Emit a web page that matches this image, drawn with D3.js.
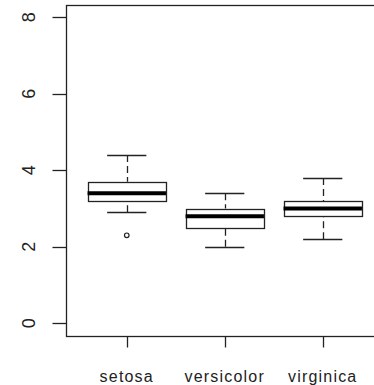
<!DOCTYPE html>
<html>
<head>
<meta charset="utf-8">
<script src="https://cdn.jsdelivr.net/npm/d3@7"></script>
<style>
  body { margin: 0; background: #fff; }
  svg { display: block; }
</style>
</head>
<body>
<script>
const width = 374;
const height = 385;

// iris sepal width, boxplot stats per species
const species = ['setosa', 'versicolor', 'virginica'];
const whiskerLow = [2.9, 2.0, 2.2];
const hingeLow = [3.2, 2.5, 2.8];
const medians = [3.4, 2.8, 3.0];
const hingeHigh = [3.7, 3.0, 3.2];
const whiskerHigh = [4.4, 3.4, 3.8];
const outliers = [[2.3], [], []];
const yTicks = [0, 2, 4, 6, 8];

const data = species.map((s, i) => ({
  name: s, pos: i + 1,
  lo: whiskerLow[i], q1: hingeLow[i], med: medians[i], q3: hingeHigh[i], hi: whiskerHigh[i],
  out: outliers[i]
}));

// R style: xlim 0.5..3.5, ylim 0..8, each padded by 4%
const x = d3.scaleLinear().domain([0.38, 3.62]).range([66, 383.5]);
const y = d3.scaleLinear().domain([-0.32, 8.32]).range([335.5, 5.1]);
const px = v => Math.round(v) + 0.5;

const svg = d3.select('body').append('svg')
  .attr('width', width).attr('height', height);

const ink = '#222';

// frame
svg.append('rect')
  .attr('x', px(x(0.38))).attr('y', px(y(8.32)))
  .attr('width', Math.round(x(3.62)) - Math.round(x(0.38)))
  .attr('height', Math.round(y(-0.32)) - Math.round(y(8.32)))
  .attr('fill', 'none').attr('stroke', ink).attr('stroke-width', 1.3);

// y axis
const yAxis = svg.append('g').attr('transform', `translate(${px(x(0.38))},0)`);
yAxis.selectAll('line').data(yTicks).enter().append('line')
  .attr('x1', -14).attr('x2', 0)
  .attr('y1', d => px(y(d))).attr('y2', d => px(y(d)))
  .attr('stroke', ink).attr('stroke-width', 1.3);
yAxis.selectAll('text').data(yTicks).enter().append('text')
  .attr('transform', d => `translate(-31.5,${y(d)}) rotate(-90)`)
  .attr('text-anchor', 'middle')
  .attr('font-family', 'Liberation Sans, Arial, sans-serif')
  .attr('font-size', 18).attr('fill', ink)
  .text(d => d);

// x axis
const xAxis = svg.append('g').attr('transform', `translate(0,${px(y(-0.32))})`);
xAxis.selectAll('line').data(data).enter().append('line')
  .attr('x1', d => px(x(d.pos))).attr('x2', d => px(x(d.pos)))
  .attr('y1', 0).attr('y2', 11)
  .attr('stroke', ink).attr('stroke-width', 1.3);
xAxis.selectAll('text').data(data).enter().append('text')
  .attr('x', d => x(d.pos)).attr('y', 45)
  .attr('text-anchor', 'middle')
  .attr('font-family', 'Liberation Sans, Arial, sans-serif')
  .attr('font-size', 16).attr('letter-spacing', 1.2).attr('fill', ink)
  .text(d => d.name);

// boxes
const g = svg.append('g').attr('stroke', ink).attr('fill', 'none');
const boxes = g.selectAll('g.box').data(data).enter().append('g').attr('class', 'box');

boxes.append('line') // upper whisker, drawn from the cap towards the box
  .attr('x1', d => px(x(d.pos))).attr('x2', d => px(x(d.pos)))
  .attr('y1', d => y(d.hi)).attr('y2', d => y(d.q3))
  .attr('stroke-width', 1.3).attr('stroke-dasharray', '7,4');
boxes.append('line') // lower whisker
  .attr('x1', d => px(x(d.pos))).attr('x2', d => px(x(d.pos)))
  .attr('y1', d => y(d.lo)).attr('y2', d => y(d.q1))
  .attr('stroke-width', 1.3).attr('stroke-dasharray', '7,4');
boxes.append('line') // upper cap
  .attr('x1', d => x(d.pos - 0.2)).attr('x2', d => x(d.pos + 0.2))
  .attr('y1', d => px(y(d.hi))).attr('y2', d => px(y(d.hi)))
  .attr('stroke-width', 1.3);
boxes.append('line') // lower cap
  .attr('x1', d => x(d.pos - 0.2)).attr('x2', d => x(d.pos + 0.2))
  .attr('y1', d => px(y(d.lo))).attr('y2', d => px(y(d.lo)))
  .attr('stroke-width', 1.3);
boxes.append('rect')
  .attr('x', d => px(x(d.pos - 0.4)))
  .attr('y', d => px(y(d.q3)))
  .attr('width', d => Math.round(x(d.pos + 0.4)) - Math.round(x(d.pos - 0.4)))
  .attr('height', d => Math.round(y(d.q1)) - Math.round(y(d.q3)))
  .attr('fill', '#fff').attr('stroke-width', 1.3);
boxes.append('line') // median
  .attr('x1', d => x(d.pos - 0.4)).attr('x2', d => x(d.pos + 0.4))
  .attr('y1', d => y(d.med)).attr('y2', d => y(d.med))
  .attr('stroke', '#000').attr('stroke-width', 4);

boxes.selectAll('circle').data(d => d.out.map(v => ({pos: d.pos, v}))).enter().append('circle')
  .attr('cx', d => x(d.pos)).attr('cy', d => y(d.v))
  .attr('r', 2.3).attr('stroke-width', 1.2).attr('fill', '#fff');
</script>
</body>
</html>
